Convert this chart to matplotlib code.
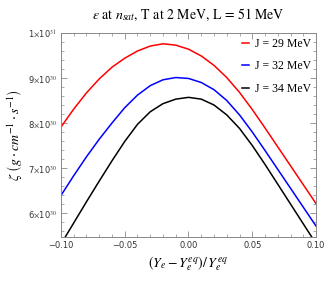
import matplotlib
matplotlib.use('Agg')
import matplotlib.pyplot as plt
from matplotlib.ticker import MultipleLocator, FixedLocator, FuncFormatter

plt.rcParams['mathtext.fontset'] = 'stix'

# x values: (Ye - Ye_eq)/Ye_eq
dy = [-0.10, -0.09, -0.08, -0.07, -0.06, -0.05, -0.04, -0.03, -0.02, -0.01, 0.00,
      0.01, 0.02, 0.03, 0.04, 0.05, 0.06, 0.07, 0.08, 0.09, 0.10]

# zeta in units of 1e30 g cm^-1 s^-1
zeta_j29 = [7.91, 8.31, 8.67, 8.98, 9.24, 9.44, 9.60, 9.71, 9.76, 9.73, 9.64,
            9.49, 9.28, 9.01, 8.68, 8.30, 7.89, 7.47, 7.05, 6.63, 6.21]
zeta_j32 = [6.39, 6.83, 7.25, 7.64, 8.00, 8.34, 8.62, 8.83, 8.96, 9.01, 8.99,
            8.90, 8.74, 8.50, 8.18, 7.80, 7.39, 6.97, 6.55, 6.13, 5.71]
zeta_j34 = [5.31, 5.78, 6.25, 6.71, 7.16, 7.59, 7.97, 8.25, 8.43, 8.53, 8.57,
            8.53, 8.40, 8.18, 7.88, 7.50, 7.08, 6.64, 6.20, 5.76, 5.32]

labels = ['J = 29 MeV', 'J = 32 MeV', 'J = 34 MeV']
colors = ['#ff0000', '#0000ff', '#000000']

fig = plt.figure(figsize=(3.27, 2.81), dpi=100)
ax = fig.add_axes([0.1865, 0.1566, 0.7799, 0.7260])

for z, lab, c in zip([zeta_j29, zeta_j32, zeta_j34], labels, colors):
    ax.plot(dy, [v * 1e30 for v in z], color=c, lw=1.1, label=lab)

ax.set_xlim(-0.1, 0.1)
ax.set_ylim(5.467e30, 1.0e31)

ax.xaxis.set_major_locator(FixedLocator([-0.1, -0.05, 0.0, 0.05, 0.1]))
ax.xaxis.set_minor_locator(MultipleLocator(0.01))
ax.yaxis.set_major_locator(FixedLocator([6e30, 7e30, 8e30, 9e30, 1e31]))
ax.yaxis.set_minor_locator(MultipleLocator(0.2e30))

def xfmt(v, pos):
    s = '%.2f' % v
    if v < 0:
        s = '\u2212' + s[1:]
    return s

def yfmt(v, pos):
    if v >= 9.99e30:
        return r'1$\times$10$^{31}$'
    return r'%d$\times$10$^{30}$' % round(v / 1e30)

ax.xaxis.set_major_formatter(FuncFormatter(xfmt))
ax.yaxis.set_major_formatter(FuncFormatter(yfmt))

ax.tick_params(which='both', direction='in', top=True, right=True,
               color='#888888', labelsize=6, labelcolor='#333333', pad=3)
ax.tick_params(which='major', length=4, width=0.6)
ax.tick_params(which='minor', length=2, width=0.5)
for sp in ax.spines.values():
    sp.set_color('#888888')
    sp.set_linewidth(0.7)

ax.set_title(r'$\varepsilon$ at $n_{sat}$, T at 2 MeV, L = 51 MeV',
             family='STIXGeneral', fontsize=10, pad=10)
ax.set_xlabel(r'$(Y_e - Y_e^{eq})/\,Y_e^{eq}$', fontsize=10, labelpad=3)
ax.set_ylabel(r'$\zeta\ \left(g \cdot cm^{-1} \cdot s^{-1}\right)$', fontsize=10, labelpad=2)

leg = ax.legend(loc='upper right', frameon=False,
                prop={'family': 'Liberation Serif', 'size': 8.5},
                handlelength=0.6, handletextpad=0.55, labelspacing=0.9,
                borderaxespad=0.05, borderpad=0.35)

fig.savefig('out.png', dpi=100)
